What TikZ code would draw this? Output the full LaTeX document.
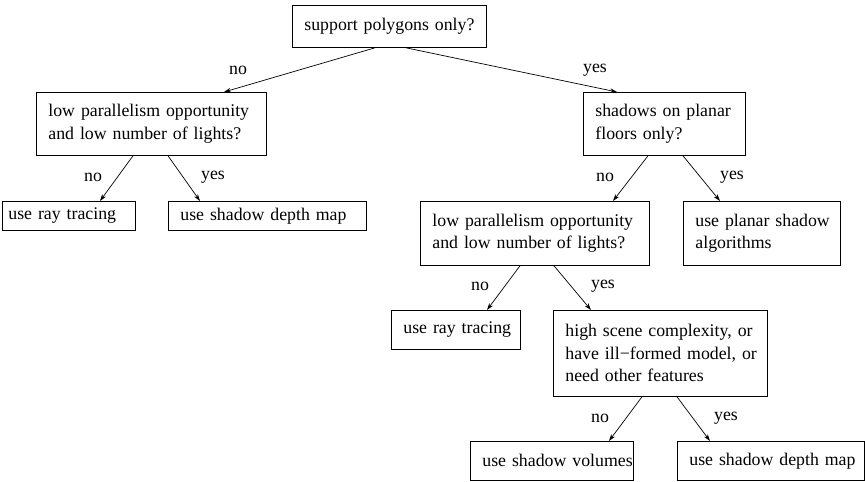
\documentclass[tikz,border=0pt]{standalone}
\usepackage{fontspec}
\setmainfont{Liberation Serif}
\newfontfamily\tms{Liberation Serif}
\usetikzlibrary{arrows.meta}
\newcommand{\myline}[1]{\mbox{#1}}
\hfuzz=20pt
\begin{document}
\begin{tikzpicture}[x=1pt,y=-1pt,
  box/.style={draw,line width=0.8pt,anchor=north west,inner xsep=12pt,inner ysep=0pt,align=left,
    font=\tms\fontsize{17.8}{22.5}\selectfont},
  arr/.style={line width=0.7pt,-{Stealth[length=7pt,width=4.5pt]}},
  lbl/.style={font=\tms\fontsize{17.8}{22.5}\selectfont,inner sep=0pt}]
\useasboundingbox (0,0) rectangle (865,482);
\node[box,minimum width=194pt,minimum height=42pt,text width=170pt] (root) at (292,5) {\myline{support polygons only?}};
\node[box,minimum width=230pt,minimum height=63pt,text width=206pt] (l1) at (36,92) {\myline{low parallelism opportunity}\\\myline{and low number of lights?}};
\node[box,minimum width=162pt,minimum height=63pt,text width=138pt] (r1) at (583,92) {\myline{shadows on planar}\\\myline{floors only?}};
\node[box,minimum width=133pt,minimum height=29pt,inner xsep=6pt,text width=121pt] (lrt) at (2,201) {\myline{use ray tracing}};
\node[box,minimum width=198pt,minimum height=29pt,text width=174pt] (lsd) at (168,201) {\myline{use shadow depth map}};
\node[box,minimum width=229pt,minimum height=64pt,text width=205pt] (r2) at (420,201) {\myline{low parallelism opportunity}\\\myline{and low number of lights?}};
\node[box,minimum width=157pt,minimum height=64pt,text width=133pt] (rps) at (683,201) {\myline{use planar shadow}\\\myline{algorithms}};
\node[box,minimum width=129pt,minimum height=39pt,text width=105pt] (rrt) at (391,310) {\myline{use ray tracing}};
\node[box,minimum width=214pt,minimum height=86pt,text width=190pt] (hsc) at (553,310) {\myline{high scene complexity, or}\\\myline{have ill−formed model, or}\\\myline{need other features}};
\node[box,minimum width=163pt,minimum height=39pt,text width=139pt] (sv) at (470,441) {\myline{use shadow volumes}};
\node[box,minimum width=187pt,minimum height=39pt,text width=163pt] (sdm) at (677,441) {\myline{use shadow depth map}};
\draw[arr] ([xshift=83pt]root.south west) -- ([xshift=188pt]l1.north west);
\draw[arr] ([xshift=114pt]root.south west) -- ([xshift=34pt]r1.north west);
\draw[arr] ([xshift=97pt]l1.south west) -- ([xshift=98pt]lrt.north west);
\draw[arr] ([xshift=132pt]l1.south west) -- ([xshift=32pt]lsd.north west);
\draw[arr] ([xshift=65pt]r1.south west) -- ([xshift=193pt]r2.north west);
\draw[arr] ([xshift=100pt]r1.south west) -- ([xshift=37pt]rps.north west);
\draw[arr] ([xshift=100pt]r2.south west) -- ([xshift=96pt]rrt.north west);
\draw[arr] ([xshift=134pt]r2.south west) -- ([xshift=38pt]hsc.north west);
\draw[arr] ([xshift=89pt]hsc.south west) -- ([xshift=139pt]sv.north west);
\draw[arr] ([xshift=124pt]hsc.south west) -- ([xshift=33pt]sdm.north west);
\node[lbl] (n1) at (238,70) {no};
\node[lbl] (y1) at (595,70) {yes};
\node[lbl] (n2) at (93,177) {no};
\node[lbl] (y2) at (213,177) {yes};
\node[lbl] (n3) at (605,177) {no};
\node[lbl] (y3) at (732,177) {yes};
\node[lbl] (n4) at (480,286) {no};
\node[lbl] (y4) at (603,286) {yes};
\node[lbl] (n5) at (600,418) {no};
\node[lbl] (y5) at (726,418) {yes};
\end{tikzpicture}
\end{document}
